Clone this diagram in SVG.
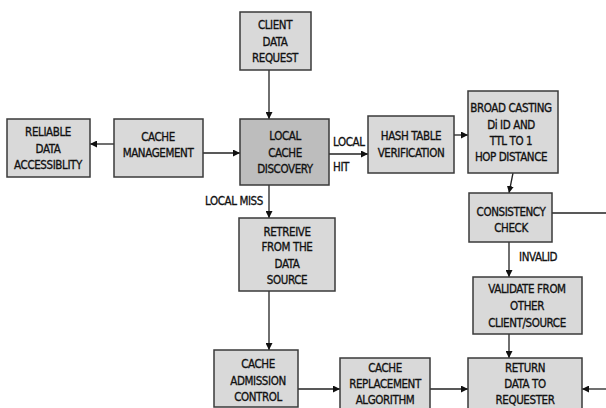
<svg xmlns="http://www.w3.org/2000/svg" width="606" height="408" viewBox="0 0 606 408">
<defs>
<marker id="ah" viewBox="0 0 8 8" refX="8" refY="4" markerWidth="7" markerHeight="7" markerUnits="userSpaceOnUse" orient="auto">
<path d="M0,0 L8,4 L0,8 z" fill="#111"/>
</marker>
<style>
.box{fill:#d9d9d9;stroke:#3a3a3a;stroke-width:1.5}
.dark{fill:#bdbdbd;stroke:#3a3a3a;stroke-width:1.5}
text{font-family:"DejaVu Sans Condensed","DejaVu Sans",sans-serif;font-size:11.5px;letter-spacing:-0.4px;fill:#111;text-anchor:middle;dominant-baseline:central;stroke:#111;stroke-width:0.3}
.l{text-anchor:start}
.c line,.c path{stroke:#222;stroke-width:1.3;fill:none}
.c .a{marker-end:url(#ah)}
</style>
</defs>
<rect width="606" height="408" fill="#fff"/>
<g class="c" id="connectors">
<line class="a" x1="269" y1="70" x2="269" y2="119"/>
<line class="a" x1="114" y1="144" x2="90" y2="144"/>
<line class="a" x1="203" y1="153" x2="240" y2="153"/>
<line class="a" x1="329" y1="154" x2="368" y2="154"/>
<line class="a" x1="454" y1="135" x2="468" y2="135"/>
<line class="a" x1="513" y1="173" x2="509" y2="193"/>
<line x1="552" y1="213" x2="606" y2="213"/>
<line class="a" x1="509" y1="242" x2="509" y2="277"/>
<line class="a" x1="509" y1="334" x2="509" y2="358"/>
<line class="a" x1="269" y1="185" x2="269" y2="218"/>
<line class="a" x1="269" y1="291" x2="269" y2="350"/>
<line class="a" x1="298" y1="389" x2="340" y2="389"/>
<line class="a" x1="430" y1="389" x2="468" y2="389"/>
<line class="a" x1="606" y1="389" x2="582" y2="389"/>
</g>
<g id="lbl-local-hit">
<text class="l" x="333" y="142">LOCAL</text>
<text class="l" x="333" y="167">HIT</text>
</g>
<g id="lbl-local-miss"><text class="l" x="205" y="201">LOCAL MISS</text></g>
<g id="lbl-invalid"><text class="l" x="519" y="257">INVALID</text></g>
<g id="client">
<rect class="box" x="240" y="12" width="71" height="58"/>
<text x="275" y="25">CLIENT</text><text x="275" y="42">DATA</text><text x="275" y="58">REQUEST</text>
</g>
<g id="reliable">
<rect class="box" x="7" y="119" width="83" height="58"/>
<text x="48" y="132">RELIABLE</text><text x="48" y="149">DATA</text><text x="48" y="165">ACCESSIBLITY</text>
</g>
<g id="cachemgmt">
<rect class="box" x="114" y="119" width="89" height="58"/>
<text x="158" y="137">CACHE</text><text x="158" y="153">MANAGEMENT</text>
</g>
<g id="localcache">
<rect class="dark" x="240" y="119" width="89" height="66"/>
<text x="285" y="136">LOCAL</text><text x="285" y="153">CACHE</text><text x="285" y="169">DISCOVERY</text>
</g>
<g id="hash">
<rect class="box" x="368" y="116" width="86" height="57"/>
<text x="411" y="136">HASH TABLE</text><text x="411" y="153">VERIFICATION</text>
</g>
<g id="broadcast">
<rect class="box" x="468" y="91" width="90" height="82"/>
<text x="511" y="108">BROAD CASTING</text><text x="511" y="125">Di ID AND</text><text x="511" y="141">TTL TO 1</text><text x="511" y="157">HOP DISTANCE</text>
</g>
<g id="consistency">
<rect class="box" x="469" y="193" width="83" height="49"/>
<text x="511" y="212">CONSISTENCY</text><text x="511" y="228">CHECK</text>
</g>
<g id="validate">
<rect class="box" x="473" y="277" width="109" height="57"/>
<text x="527" y="289">VALIDATE FROM</text><text x="527" y="306">OTHER</text><text x="527" y="323">CLIENT/SOURCE</text>
</g>
<g id="retreive">
<rect class="box" x="239" y="218" width="96" height="73"/>
<text x="287" y="232">RETREIVE</text><text x="287" y="247">FROM THE</text><text x="287" y="264">DATA</text><text x="287" y="280">SOURCE</text>
</g>
<g id="admission">
<rect class="box" x="214" y="350" width="84" height="57"/>
<text x="258" y="364">CACHE</text><text x="258" y="381">ADMISSION</text><text x="258" y="397">CONTROL</text>
</g>
<g id="replacement">
<rect class="box" x="340" y="358" width="90" height="52"/>
<text x="385" y="368">CACHE</text><text x="385" y="384">REPLACEMENT</text><text x="385" y="400">ALGORITHM</text>
</g>
<g id="return">
<rect class="box" x="468" y="358" width="114" height="52"/>
<text x="525" y="368">RETURN</text><text x="525" y="384">DATA TO</text><text x="525" y="400">REQUESTER</text>
</g>
</svg>
